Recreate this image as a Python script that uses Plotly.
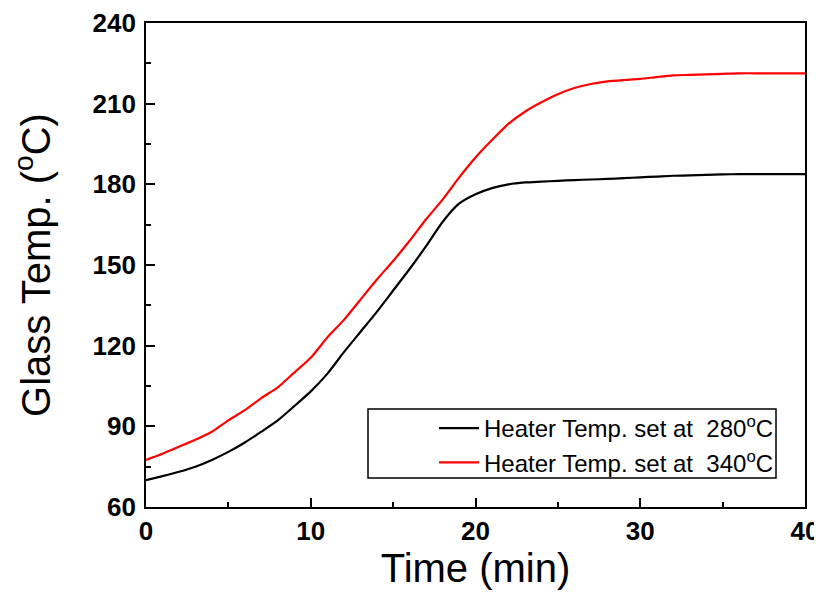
import plotly.graph_objects as go

time_min = list(range(0, 41))
glass_280 = [70.0, 71.5, 73.1, 75.0, 77.5, 80.5, 84.0, 88.0, 92.2, 97.5,
             103.0, 109.5, 117.5, 125.0, 132.5, 140.5, 148.5, 157.0, 166.0, 172.8,
             176.3, 178.6, 180.0, 180.7, 181.0, 181.3, 181.6, 181.8, 182.0, 182.3,
             182.6, 182.9, 183.2, 183.3, 183.5, 183.7, 183.8, 183.8, 183.8, 183.8, 183.8]
glass_340 = [77.5, 79.8, 82.4, 85.0, 88.0, 92.2, 96.0, 100.5, 104.5, 110.0,
             115.5, 123.0, 129.5, 137.0, 144.5, 151.5, 159.0, 167.0, 174.3, 182.5,
             190.0, 196.5, 202.5, 207.0, 210.5, 213.5, 215.8, 217.3, 218.3, 218.8,
             219.2, 219.9, 220.5, 220.7, 220.9, 221.1, 221.3, 221.3, 221.3, 221.3, 221.3]
series_names = ["Heater Temp. set at  280<sup>o</sup>C", "Heater Temp. set at  340<sup>o</sup>C"]
x_ticks = [0, 10, 20, 30, 40]
y_ticks = [60, 90, 120, 150, 180, 210, 240]

fig = go.Figure()
fig.add_trace(go.Scatter(x=time_min, y=glass_280, mode="lines", name=series_names[0],
                         line=dict(color="black", width=2.2, shape="spline", smoothing=0.6)))
fig.add_trace(go.Scatter(x=time_min, y=glass_340, mode="lines", name=series_names[1],
                         line=dict(color="#ff0000", width=2.2, shape="spline", smoothing=0.6)))

axis_common = dict(showline=True, linecolor="black", linewidth=1.6, mirror=True,
                   ticks="inside", ticklen=9, tickwidth=1.6, tickcolor="black",
                   showgrid=False, zeroline=False, automargin=False,
                   tickfont=dict(family="Liberation Sans", size=26, color="black", weight="bold"))

fig.update_xaxes(range=[0, 40], tickvals=x_ticks,
                 minor=dict(ticks="inside", ticklen=5, tickwidth=1.6, tickcolor="black", dtick=5, tick0=0),
                 title=dict(text="Time (min)", font=dict(family="Liberation Sans", size=40, color="black"), standoff=9),
                 **axis_common)
fig.update_yaxes(range=[60, 240], tickvals=y_ticks, ticklabelstandoff=3,
                 minor=dict(ticks="inside", ticklen=5, tickwidth=1.6, tickcolor="black", dtick=15, tick0=60),
                 title=dict(text="Glass Temp. (<sup>o</sup>C)", font=dict(family="Liberation Sans", size=40, color="black"), standoff=42),
                 **axis_common)

# plot area in page pixels: x 146..805, y 23..507 (page body has an 8px margin)
fig.add_shape(type="rect", xref="paper", yref="paper",
              x0=(368 - 146) / 659, x1=(776 - 146) / 659,
              y0=(507 - 478) / 484, y1=(507 - 409) / 484,
              line=dict(color="black", width=1.5), fillcolor="rgba(0,0,0,0)")

fig.update_layout(
    width=814, height=586,
    margin=dict(l=138, r=17, t=15, b=87),
    paper_bgcolor="white", plot_bgcolor="white",
    showlegend=True,
    legend=dict(x=(779 - 146) / 659, xanchor="right", y=(507 - 406) / 484, yanchor="top",
                bgcolor="rgba(0,0,0,0)", borderwidth=0,
                font=dict(family="Liberation Sans", size=24, color="black"),
                tracegroupgap=0, itemwidth=40),
)

fig.write_html("out.html")
